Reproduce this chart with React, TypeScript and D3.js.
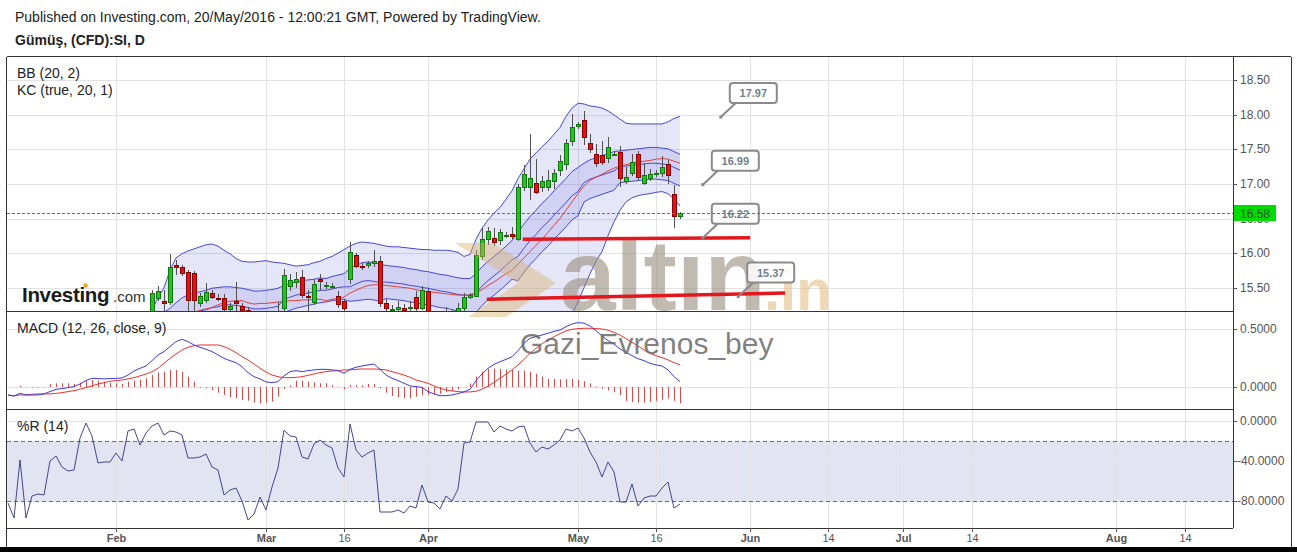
import React from 'react';
import * as d3 from 'd3';

// Silver CFD daily bars, 11 Jan 2016 .. 20 May 2016 (bar index 0..112, Sunday sessions included)
const opens = [
  13.90, 13.82, 13.76, 14.00, 13.70, 13.85, 13.86, 13.86, 14.05, 14.12,
  14.06, 14.02, 14.03, 14.25, 14.43, 14.38, 14.22, 14.23, 14.23, 14.30,
  14.26, 14.72, 15.08, 14.90, 15.05, 15.35, 15.30, 15.29, 15.82, 15.80,
  15.72, 15.71, 15.28, 15.32, 15.42, 15.35, 15.35, 15.19, 15.30, 15.23,
  15.17, 14.75, 14.78, 14.93, 14.80, 14.98, 15.21, 15.52, 15.58, 15.65,
  15.38, 15.29, 15.62, 15.52, 15.52, 15.38, 15.30, 15.62, 15.97, 15.81,
  15.82, 15.85, 15.88, 15.28, 15.19, 15.19, 15.20, 15.21, 15.36, 15.21,
  15.45, 15.10, 15.08, 14.98, 15.15, 15.08, 15.21, 15.37, 15.38, 15.95,
  16.20, 16.22, 16.19, 16.26, 16.28, 16.21, 16.95, 16.95, 17.01, 16.95,
  16.95, 17.04, 17.20, 17.29, 17.62, 17.84, 17.92, 17.60, 17.44, 17.42,
  17.38, 17.44, 17.47, 17.05, 17.16, 17.44, 17.02, 17.08, 17.14, 17.16,
  17.29, 16.85, 16.54,
];
const highs = [
  14.00, 13.90, 14.05, 14.05, 13.95, 13.90, 13.95, 14.12, 14.25, 14.20,
  14.15, 14.08, 14.32, 14.45, 14.50, 14.42, 14.30, 14.28, 14.40, 14.35,
  14.78, 15.12, 15.15, 15.08, 15.46, 15.52, 15.46, 15.99, 15.90, 15.82,
  15.75, 15.74, 15.42, 15.57, 15.47, 15.40, 15.40, 15.28, 15.58, 15.27,
  15.22, 14.82, 15.00, 14.98, 15.02, 15.29, 15.77, 15.70, 15.72, 15.75,
  15.46, 15.62, 15.70, 15.58, 15.56, 15.45, 15.34, 16.16, 16.00, 15.86,
  15.88, 16.04, 15.95, 15.33, 15.24, 15.30, 15.26, 15.30, 15.45, 15.52,
  15.48, 15.14, 15.16, 15.22, 15.18, 15.28, 15.42, 15.42, 16.05, 16.36,
  16.38, 16.36, 16.35, 16.30, 16.38, 17.00, 17.28, 17.72, 17.36, 17.12,
  17.20, 17.22, 17.42, 17.65, 18.02, 17.90, 18.06, 17.72, 17.58, 17.62,
  17.68, 17.48, 17.55, 17.25, 17.44, 17.48, 17.30, 17.22, 17.20, 17.40,
  17.35, 16.98, 16.60,
];
const lows = [
  13.78, 13.72, 13.74, 13.62, 13.65, 13.80, 13.82, 13.84, 13.95, 13.98,
  13.96, 13.98, 14.00, 14.22, 14.30, 14.15, 14.05, 14.18, 14.18, 14.12,
  14.20, 14.68, 14.82, 14.88, 15.00, 15.30, 15.14, 15.25, 15.68, 15.66,
  15.14, 15.12, 15.22, 15.28, 15.33, 15.30, 15.14, 15.14, 15.15, 15.12,
  14.72, 14.72, 14.70, 14.75, 14.78, 14.95, 15.15, 15.45, 15.50, 15.35,
  15.16, 15.25, 15.46, 15.48, 15.48, 15.20, 15.15, 15.55, 15.78, 15.76,
  15.78, 15.80, 15.22, 15.15, 15.10, 15.12, 15.10, 15.12, 15.15, 15.17,
  14.98, 15.05, 14.92, 14.95, 15.02, 15.05, 15.16, 15.34, 15.36, 15.90,
  16.12, 16.10, 16.12, 16.22, 16.20, 16.18, 16.90, 16.77, 16.85, 16.88,
  16.90, 16.93, 17.12, 17.20, 17.55, 17.80, 17.56, 17.45, 17.25, 17.28,
  17.30, 17.40, 16.96, 17.00, 17.12, 17.05, 16.98, 17.04, 17.10, 17.10,
  17.00, 16.36, 16.50,
];
const closes = [
  13.82, 13.75, 14.00, 13.68, 13.85, 13.86, 13.85, 14.05, 14.12, 14.06,
  14.02, 14.03, 14.25, 14.43, 14.38, 14.22, 14.23, 14.23, 14.30, 14.26,
  14.72, 15.08, 14.90, 15.05, 15.42, 15.45, 15.28, 15.80, 15.80, 15.71,
  15.32, 15.32, 15.38, 15.43, 15.37, 15.34, 15.19, 15.23, 15.28, 15.17,
  14.75, 14.78, 14.93, 14.80, 14.98, 15.14, 15.68, 15.61, 15.63, 15.39,
  15.37, 15.55, 15.60, 15.53, 15.52, 15.26, 15.21, 16.02, 15.81, 15.80,
  15.85, 15.89, 15.27, 15.20, 15.19, 15.22, 15.18, 15.22, 15.21, 15.46,
  15.10, 15.08, 14.98, 15.15, 15.08, 15.20, 15.37, 15.39, 15.97, 16.21,
  16.32, 16.16, 16.31, 16.26, 16.25, 16.96, 17.14, 17.08, 16.89, 17.04,
  17.06, 17.16, 17.33, 17.59, 17.82, 17.87, 17.68, 17.50, 17.30, 17.32,
  17.53, 17.44, 17.09, 17.10, 17.32, 17.10, 17.13, 17.15, 17.16, 17.24,
  17.13, 16.53, 16.58,
];

// Bands start at bar 20
const bandStart = 20;
const bbUpper = [
  14.90, 14.95, 15.00, 15.08, 15.18, 15.35, 15.50, 15.75, 15.93, 15.99,
  16.03, 16.06, 16.09, 16.12, 16.13, 16.10, 16.04, 15.99, 15.92, 15.88,
  15.87, 15.87, 15.88, 15.89, 15.87, 15.86, 15.85, 15.83, 15.81, 15.82,
  15.83, 15.86, 15.88, 15.92, 15.95, 16.00, 16.05, 16.10, 16.14, 16.16,
  16.15, 16.14, 16.12, 16.10, 16.09, 16.09, 16.08, 16.07, 16.06, 16.05,
  16.05, 16.04, 16.04, 16.04, 16.03, 16.01, 15.95, 15.98, 16.20, 16.36,
  16.48, 16.58, 16.66, 16.78, 16.90, 17.08, 17.22, 17.36, 17.45, 17.54,
  17.62, 17.72, 17.82, 17.98, 18.10, 18.17, 18.16, 18.13, 18.12, 18.10,
  18.06, 18.00, 17.94, 17.88, 17.87, 17.87, 17.87, 17.87, 17.87, 17.87,
  17.90, 17.95, 17.98,
];
const bbBasis = [
  14.45, 14.52, 14.57, 14.62, 14.70, 14.78, 14.84, 14.94, 15.03, 15.10,
  15.12, 15.14, 15.17, 15.19, 15.21, 15.25, 15.28, 15.30, 15.31, 15.31,
  15.28, 15.26, 15.27, 15.27, 15.28, 15.29, 15.30, 15.31, 15.31, 15.32,
  15.32, 15.33, 15.33, 15.31, 15.33, 15.34, 15.36, 15.42, 15.46, 15.50,
  15.53, 15.54, 15.54, 15.53, 15.52, 15.51, 15.50, 15.49, 15.47, 15.45,
  15.44, 15.43, 15.42, 15.41, 15.40, 15.39, 15.39, 15.39, 15.42, 15.47,
  15.53, 15.58, 15.64, 15.70, 15.75, 15.84, 15.93, 16.02, 16.11, 16.20,
  16.30, 16.40, 16.50, 16.62, 16.74, 16.86, 16.97, 17.05, 17.10, 17.14,
  17.19, 17.23, 17.26, 17.28, 17.30, 17.32, 17.33, 17.34, 17.36, 17.37,
  17.36, 17.33, 17.30,
];
const bbLower = [
  14.00, 14.09, 14.14, 14.16, 14.22, 14.21, 14.18, 14.13, 14.13, 14.21,
  14.21, 14.22, 14.25, 14.26, 14.29, 14.40, 14.52, 14.61, 14.70, 14.74,
  14.69, 14.65, 14.66, 14.65, 14.69, 14.72, 14.75, 14.79, 14.81, 14.82,
  14.81, 14.80, 14.78, 14.70, 14.67, 14.64, 14.65, 14.72, 14.78, 14.84,
  14.91, 14.94, 14.96, 14.96, 14.95, 14.93, 14.92, 14.91, 14.88, 14.85,
  14.83, 14.82, 14.80, 14.78, 14.77, 14.77, 14.83, 14.80, 14.64, 14.58,
  14.58, 14.58, 14.62, 14.62, 14.60, 14.62, 14.63, 14.66, 14.70, 14.75,
  14.80, 14.86, 14.92, 14.98, 15.10, 15.30, 15.50, 15.70, 15.88, 16.02,
  16.25, 16.45, 16.62, 16.74, 16.80, 16.83, 16.85, 16.86, 16.88, 16.89,
  16.86, 16.78, 16.68,
];
const kcUpper = [
  14.70, 14.80, 14.86, 14.92, 15.00, 15.08, 15.14, 15.20, 15.28, 15.35,
  15.39, 15.42, 15.44, 15.46, 15.49, 15.50, 15.51, 15.51, 15.50, 15.49,
  15.47, 15.45, 15.45, 15.46, 15.47, 15.49, 15.53, 15.56, 15.58, 15.60,
  15.61, 15.62, 15.64, 15.63, 15.66, 15.68, 15.70, 15.78, 15.82, 15.86,
  15.87, 15.86, 15.84, 15.82, 15.81, 15.80, 15.79, 15.77, 15.76, 15.74,
  15.73, 15.71, 15.69, 15.68, 15.66, 15.64, 15.63, 15.63, 15.70, 15.80,
  15.88, 15.95, 16.02, 16.10, 16.18, 16.30, 16.42, 16.53, 16.62, 16.72,
  16.80, 16.90, 16.99, 17.08, 17.18, 17.24, 17.30, 17.35, 17.38, 17.41,
  17.44, 17.47, 17.48, 17.49, 17.50, 17.51, 17.52, 17.53, 17.53, 17.52,
  17.51, 17.47, 17.43,
];
const kcBasis = [
  14.45, 14.55, 14.61, 14.67, 14.75, 14.83, 14.89, 14.92, 15.00, 15.07,
  15.11, 15.14, 15.16, 15.18, 15.21, 15.22, 15.25, 15.25, 15.24, 15.23,
  15.21, 15.19, 15.19, 15.20, 15.21, 15.23, 15.33, 15.36, 15.39, 15.41,
  15.42, 15.44, 15.46, 15.46, 15.48, 15.50, 15.51, 15.51, 15.55, 15.59,
  15.60, 15.59, 15.57, 15.58, 15.57, 15.56, 15.55, 15.53, 15.52, 15.50,
  15.49, 15.47, 15.45, 15.44, 15.42, 15.40, 15.39, 15.39, 15.42, 15.52,
  15.60, 15.67, 15.74, 15.82, 15.90, 15.95, 16.07, 16.18, 16.27, 16.37,
  16.45, 16.55, 16.64, 16.73, 16.83, 16.89, 17.02, 17.07, 17.10, 17.13,
  17.16, 17.19, 17.25, 17.26, 17.27, 17.28, 17.29, 17.30, 17.30, 17.29,
  17.28, 17.24, 17.20,
];
const kcLower = [
  14.20, 14.30, 14.36, 14.42, 14.50, 14.58, 14.64, 14.64, 14.72, 14.79,
  14.83, 14.86, 14.88, 14.90, 14.93, 14.94, 14.99, 14.99, 14.98, 14.97,
  14.95, 14.93, 14.93, 14.94, 14.95, 14.97, 15.14, 15.17, 15.20, 15.22,
  15.24, 15.26, 15.28, 15.29, 15.31, 15.32, 15.33, 15.30, 15.31, 15.32,
  15.33, 15.32, 15.30, 15.34, 15.33, 15.32, 15.31, 15.29, 15.28, 15.26,
  15.25, 15.23, 15.21, 15.20, 15.18, 15.16, 15.15, 15.15, 15.14, 15.24,
  15.32, 15.39, 15.46, 15.54, 15.62, 15.60, 15.72, 15.83, 15.92, 16.02,
  16.10, 16.20, 16.29, 16.38, 16.48, 16.54, 16.74, 16.79, 16.82, 16.85,
  16.88, 16.91, 17.02, 17.03, 17.04, 17.05, 17.06, 17.07, 17.07, 17.06,
  17.05, 17.01, 16.97,
];

// MACD (12, 26, close, 9)
const macdLine = [
  -0.069, -0.078, -0.055, -0.069, -0.069, -0.069, -0.060, -0.040, -0.020, -0.014,
  -0.006, 0.003, 0.026, 0.055, 0.075, 0.072, 0.070, 0.072, 0.074, 0.078,
  0.103, 0.138, 0.161, 0.181, 0.227, 0.276, 0.305, 0.348, 0.391, 0.411,
  0.391, 0.362, 0.342, 0.325, 0.305, 0.276, 0.247, 0.227, 0.210, 0.175,
  0.124, 0.089, 0.069, 0.043, 0.037, 0.046, 0.095, 0.132, 0.141, 0.132,
  0.141, 0.147, 0.152, 0.152, 0.147, 0.141, 0.118, 0.152, 0.170, 0.181,
  0.190, 0.198, 0.152, 0.103, 0.075, 0.055, 0.032, 0.009, 0.003, -0.003,
  -0.040, -0.060, -0.075, -0.075, -0.069, -0.057, -0.043, -0.020, 0.055, 0.112,
  0.160, 0.195, 0.218, 0.238, 0.260, 0.313, 0.376, 0.420, 0.434, 0.448,
  0.463, 0.480, 0.490, 0.520, 0.543, 0.555, 0.550, 0.526, 0.485, 0.440,
  0.400, 0.370, 0.328, 0.300, 0.270, 0.244, 0.227, 0.204, 0.190, 0.181,
  0.147, 0.089, 0.046,
];
const signalLine = [
  -0.069, -0.078, -0.069, -0.069, -0.063, -0.060, -0.060, -0.060, -0.055, -0.049,
  -0.040, -0.032, -0.020, -0.006, 0.009, 0.026, 0.037, 0.049, 0.055, 0.060,
  0.069, 0.080, 0.095, 0.112, 0.132, 0.161, 0.204, 0.247, 0.284, 0.319,
  0.342, 0.356, 0.362, 0.362, 0.362, 0.362, 0.348, 0.325, 0.296, 0.261,
  0.233, 0.198, 0.161, 0.129, 0.103, 0.089, 0.080, 0.080, 0.083, 0.089,
  0.100, 0.112, 0.124, 0.132, 0.138, 0.141, 0.147, 0.147, 0.152, 0.155,
  0.155, 0.155, 0.152, 0.147, 0.132, 0.118, 0.103, 0.083, 0.060, 0.046,
  0.032, 0.009, -0.011, -0.026, -0.034, -0.040, -0.043, -0.043, -0.037, -0.020,
  0.006, 0.040, 0.075, 0.110, 0.147, 0.190, 0.238, 0.290, 0.333, 0.373,
  0.405, 0.434, 0.460, 0.483, 0.497, 0.503, 0.506, 0.506, 0.503, 0.500,
  0.490, 0.470, 0.448, 0.417, 0.385, 0.353, 0.319, 0.290, 0.270, 0.253,
  0.233, 0.210, 0.190,
];
const macdHist = [
  0, 0, 0.012, -0.004, -0.005, -0.006, -0.004, 0.026, 0.032, 0.032,
  0.032, 0.026, 0.037, 0.052, 0.060, 0.055, 0.046, 0.037, 0.032, 0.026,
  0.046, 0.055, 0.060, 0.075, 0.103, 0.124, 0.132, 0.147, 0.147, 0.132,
  0.089, 0.046, -0.006, -0.012, -0.026, -0.049, -0.069, -0.089, -0.098, -0.112,
  -0.118, -0.135, -0.141, -0.135, -0.126, -0.083, -0.017, 0.014, 0.055, 0.055,
  0.046, 0.040, 0.032, 0.032, 0.017, 0.003, -0.020, 0.017, 0.017, 0.014,
  0.026, 0.026, -0.012, -0.049, -0.078, -0.089, -0.098, -0.098, -0.083, -0.069,
  -0.069, -0.065, -0.060, -0.045, -0.035, -0.020, 0.000, 0.030, 0.090, 0.130,
  0.155, 0.160, 0.155, 0.150, 0.155, 0.140, 0.140, 0.130, 0.115, 0.090,
  0.070, 0.070, 0.065, 0.070, 0.070, 0.060, 0.050, 0.030, 0.005, -0.015,
  -0.030, -0.045, -0.070, -0.120, -0.130, -0.135, -0.135, -0.130, -0.120, -0.110,
  -0.100, -0.120, -0.140,
];

// Williams %R (14)
const williamsR = [
  -82, -97, -39, -97, -75, -73, -74, -40, -35, -46,
  -50, -49, -17, -2, -15, -42, -41, -41, -32, -40,
  -10, -8, -24, -12, -5, -2, -14, -10, -11, -14,
  -37, -37, -36, -33, -46, -49, -74, -69, -67, -80,
  -99, -93, -76, -89, -66, -47, -9, -15, -16, -36,
  -38, -23, -19, -24, -27, -47, -56, -3, -29, -36,
  -32, -29, -91, -91, -91, -89, -92, -85, -87, -64,
  -81, -82, -88, -75, -80, -68, -22, -21, -1, -1,
  -1, -11, -5, -8, -10, -6, -5, -22, -31, -26,
  -28, -24, -19, -8, -10, -7, -17, -31, -41, -56,
  -41, -51, -81, -81, -63, -85, -77, -75, -75, -67,
  -61, -87, -83,
];

// time axis (bar positions, future ones continue the bar count)
const tickLabels = ['Feb', 'Mar', '16', 'Apr', 'May', '16', 'Jun', '14', 'Jul', '14', 'Aug', '14'];
const tickBars = [18, 43, 56, 70, 95, 108, 123.7, 136.7, 149.2, 160.7, 184.7, 196.2];

const priceTicks = [15.5, 16, 16.5, 17, 17.5, 18, 18.5];
const macdTicks = [0, 0.5];
const wprTicks = [0, -40, -80];
const lastPrice = 16.58;

// drawings on the chart
const calloutValues = [17.97, 16.99, 16.22, 15.37];
const calloutBars = [118.8, 115.8, 115.8, 121.7];
const trendLines = [
  { bars: [85.8, 123.7], prices: [16.2, 16.22] },
  { bars: [79.8, 129.5], prices: [15.33, 15.42] },
];

const FONT = '"Liberation Sans", Arial, Helvetica, sans-serif';
const L = 6.5, R = 1233, FR = 1291;
const pTop = 57, pBot = 311, mBot = 409, wBot = 528;

export default function App() {
  const x = d3.scaleLinear().domain([0, 112]).range([8, 680]);
  const yP = d3.scaleLinear().domain([15.16, 18.84]).range([pBot, pTop]);
  const yM = d3.scaleLinear().domain([-0.19, 0.655]).range([mBot, pBot]);
  const yW = d3.scaleLinear().domain([-107, 12]).range([wBot, mBot]);

  const bx = (_: number, k: number) => x(k + bandStart);
  const bandArea = (lo: number[]) =>
    d3.area<number>().x(bx).y0((_, k) => yP(lo[k])).y1((d) => yP(d));
  const bandLine = d3.line<number>().x(bx).y((d) => yP(d));
  const macdPath = d3.line<number>().x((_, i) => x(i)).y((d) => yM(d));
  const wprPath = d3.line<number>().x((_, i) => x(i)).y((d) => yW(d));

  const bandColor = '#4848d4';
  const lastY = Math.round(yP(lastPrice)) + 0.5;

  return (
    <svg
      width={1297}
      height={552}
      style={{ position: 'absolute', left: 0, top: 0, background: '#fff' }}
      fontFamily={FONT}
    >
      <defs>
        <clipPath id="cp-price">
          <rect x={L} y={pTop} width={R - L} height={pBot - pTop} />
        </clipPath>
        <clipPath id="cp-macd">
          <rect x={L} y={pBot} width={R - L} height={mBot - pBot} />
        </clipPath>
        <clipPath id="cp-wpr">
          <rect x={L} y={mBot} width={R - L} height={wBot - mBot} />
        </clipPath>
      </defs>
      <rect x={0} y={0} width={1297} height={552} fill="#fff" />

      <text x={15} y={22} fontSize={14} fill="#222">
        Published on Investing.com, 20/May/2016 - 12:00:21 GMT, Powered by TradingView.
      </text>
      <text x={15} y={45} fontSize={14} fontWeight="bold" fill="#222">
        Gümüş, (CFD):SI, D
      </text>

      {/* %R band */}
      <rect x={L} y={yW(-20)} width={R - L} height={yW(-80) - yW(-20)} fill="#e3e4f2" />

      {/* grid */}
      <g stroke="#e2e2e2" strokeWidth={1} shapeRendering="crispEdges">
        {tickBars.map((b, k) => (
          <line key={'v' + k} x1={Math.round(x(b)) + 0.5} x2={Math.round(x(b)) + 0.5} y1={pTop} y2={wBot} />
        ))}
        {priceTicks.map((p) => (
          <line key={'p' + p} x1={L} x2={R} y1={Math.round(yP(p)) + 0.5} y2={Math.round(yP(p)) + 0.5} />
        ))}
        {macdTicks.map((p) => (
          <line key={'m' + p} x1={L} x2={R} y1={Math.round(yM(p)) + 0.5} y2={Math.round(yM(p)) + 0.5} />
        ))}
        {wprTicks.map((p) => (
          <line key={'w' + p} x1={L} x2={R} y1={Math.round(yW(p)) + 0.5} y2={Math.round(yW(p)) + 0.5} />
        ))}
      </g>
      <g stroke="#6e6e6e" strokeDasharray="4,3" shapeRendering="crispEdges">
        <line x1={L} x2={R} y1={Math.round(yW(-20)) + 0.5} y2={Math.round(yW(-20)) + 0.5} />
        <line x1={L} x2={R} y1={Math.round(yW(-80)) + 0.5} y2={Math.round(yW(-80)) + 0.5} />
      </g>

      {/* price panel */}
      <g clipPath="url(#cp-price)">
        <path d={bandArea(bbLower)(bbUpper) || ''} fill="rgb(100,100,215)" fillOpacity={0.16} />
        <path d={bandArea(kcLower)(kcUpper) || ''} fill="rgb(100,100,215)" fillOpacity={0.16} />
        {[bbUpper, bbLower, kcUpper, kcBasis, kcLower].map((s, k) => (
          <path key={k} d={bandLine(s) || ''} fill="none" stroke={bandColor} strokeWidth={1} />
        ))}
        <path d={bandLine(bbBasis) || ''} fill="none" stroke="#e2403a" strokeWidth={1} />

        {closes.map((c, i) => {
          const o = opens[i];
          const up = c >= o;
          const xi = Math.round(x(i));
          const top = Math.round(yP(Math.max(o, c)));
          const bot = Math.round(yP(Math.min(o, c)));
          return (
            <g key={i} shapeRendering="crispEdges">
              <line x1={xi + 0.5} x2={xi + 0.5} y1={yP(highs[i])} y2={yP(lows[i])} stroke="#505050" />
              <rect
                x={xi - 1.5}
                y={top + 0.5}
                width={4}
                height={Math.max(1, bot - top)}
                fill={up ? '#22c422' : '#e01414'}
                stroke={up ? '#127512' : '#880000'}
              />
            </g>
          );
        })}
      </g>

      {/* altın.in watermark */}
      <g>
        <polygon
          points="455,243 493,243 556,283 506,317 468,317 518,283"
          fill="#d8b064"
          fillOpacity={0.42}
        />
        <text x={560} y={310} fontSize={100} fontWeight="bold" fill="#978c7c" fillOpacity={0.6}>
          altın
        </text>
        <text x={764} y={310} fontSize={58} fontWeight="bold" fill="#e2b87a" fillOpacity={0.55}>
          .in
        </text>
      </g>

      {/* trend lines */}
      <g clipPath="url(#cp-price)">
        {trendLines.map((t, k) => (
          <line
            key={k}
            x1={x(t.bars[0])}
            x2={x(t.bars[1])}
            y1={yP(t.prices[0])}
            y2={yP(t.prices[1])}
            stroke="#e3161e"
            strokeWidth={3.5}
          />
        ))}
      </g>

      {/* callouts */}
      {calloutValues.map((v, k) => {
        const ax = x(calloutBars[k]);
        const ay = yP(v);
        const bxL = ax + 9;
        const byB = ay - 14;
        return (
          <g key={k}>
            <line x1={ax} y1={ay} x2={bxL + 6} y2={byB} stroke="#8a8a8a" strokeWidth={2} />
            <rect x={ax - 1.5} y={ay - 1.5} width={3} height={3} fill="#8a8a8a" />
            <rect x={bxL} y={byB - 20} width={47} height={20} rx={3} fill="#fff" fillOpacity={0.85} stroke="#8a8a8a" strokeWidth={2} />
            <text x={bxL + 23.5} y={byB - 6} textAnchor="middle" fontSize={11} fontWeight="bold" fill="#6f7f90">
              {v.toFixed(2)}
            </text>
          </g>
        );
      })}

      {/* last price line */}
      <line
        x1={L}
        x2={R}
        y1={lastY}
        y2={lastY}
        stroke="#00b800"
        strokeWidth={1}
        strokeDasharray="3,2"
        shapeRendering="crispEdges"
      />

      {/* Investing.com logo */}
      <text x={22} y={302} fontSize={20.5} fontWeight="bold" fill="#1b1b1b" letterSpacing={-0.3}>
        Investing
      </text>
      <circle cx={85.5} cy={285.5} r={2.3} fill="#f5a623" />
      <text x={113} y={302} fontSize={15} fill="#333">
        .com
      </text>

      <text x={17} y={78} fontSize={14} fill="#222">BB (20, 2)</text>
      <text x={17} y={95} fontSize={14} fill="#222">KC (true, 20, 1)</text>

      {/* MACD panel */}
      <g clipPath="url(#cp-macd)">
        {macdHist.map((h, i) => (
          <line
            key={i}
            x1={Math.round(x(i)) + 0.5}
            x2={Math.round(x(i)) + 0.5}
            y1={yM(0)}
            y2={yM(h)}
            stroke="#e04848"
            strokeWidth={1}
          />
        ))}
        <path d={macdPath(signalLine) || ''} fill="none" stroke="#e8322e" strokeWidth={1} />
        <path d={macdPath(macdLine) || ''} fill="none" stroke="#3a3ae0" strokeWidth={1} />
      </g>
      <text x={17} y={333} fontSize={14} fill="#222">MACD (12, 26, close, 9)</text>
      <text x={520} y={354} fontSize={30} fill="#6a6a6a" fillOpacity={0.85}>
        Gazi_Evrenos_bey
      </text>

      {/* %R panel */}
      <g clipPath="url(#cp-wpr)">
        <path d={wprPath(williamsR) || ''} fill="none" stroke="#45458c" strokeWidth={1} />
      </g>
      <text x={17} y={431} fontSize={14} fill="#222">%R (14)</text>

      {/* frames */}
      <g stroke="#333" strokeWidth={1} fill="none" shapeRendering="crispEdges">
        <line x1={L} x2={FR} y1={56.5} y2={56.5} />
        <line x1={L} x2={L} y1={56.5} y2={548} />
        <line x1={R + 0.5} x2={R + 0.5} y1={56.5} y2={wBot} />
        <line x1={FR + 0.5} x2={FR + 0.5} y1={56.5} y2={548} />
        <line x1={L} x2={R} y1={pBot + 0.5} y2={pBot + 0.5} />
        <line x1={L} x2={R} y1={mBot + 0.5} y2={mBot + 0.5} />
        <line x1={L} x2={R} y1={wBot + 0.5} y2={wBot + 0.5} />
      </g>

      {/* right axis */}
      <g fontSize={12} fill="#555">
        {priceTicks.map((p) => (
          <g key={'pl' + p}>
            <line x1={R} x2={R + 4} y1={Math.round(yP(p)) + 0.5} y2={Math.round(yP(p)) + 0.5} stroke="#555" />
            <text x={1240} y={yP(p) + 4}>{p.toFixed(2)}</text>
          </g>
        ))}
        {macdTicks.map((p) => (
          <g key={'ml' + p}>
            <line x1={R} x2={R + 4} y1={Math.round(yM(p)) + 0.5} y2={Math.round(yM(p)) + 0.5} stroke="#555" />
            <text x={1240} y={yM(p) + 4}>{p.toFixed(4)}</text>
          </g>
        ))}
        {wprTicks.map((p) => (
          <g key={'wl' + p}>
            <line x1={R} x2={R + 4} y1={Math.round(yW(p)) + 0.5} y2={Math.round(yW(p)) + 0.5} stroke="#555" />
            <text x={p < 0 ? 1237 : 1240} y={yW(p) + 4}>{p.toFixed(4)}</text>
          </g>
        ))}
      </g>
      <rect x={1234} y={lastY - 8.5} width={42} height={16} fill="#00dc00" />
      <text x={1240} y={lastY + 4} fontSize={12} fill="#2a5a2a">
        {lastPrice.toFixed(2)}
      </text>

      {/* time axis */}
      <g fontSize={11} fill="#555" textAnchor="middle">
        {tickBars.map((b, k) => {
          const xx = Math.round(x(b)) + 0.5;
          const isMonth = /[A-Za-z]/.test(tickLabels[k]);
          return (
            <g key={'t' + k}>
              <line x1={xx} x2={xx} y1={wBot} y2={wBot + 4} stroke="#555" shapeRendering="crispEdges" />
              <text x={xx} y={542} fontWeight={isMonth ? 'bold' : 'normal'}>
                {tickLabels[k]}
              </text>
            </g>
          );
        })}
      </g>
      <rect x={0} y={547} width={1297} height={5} fill="#000" />
    </svg>
  );
}
